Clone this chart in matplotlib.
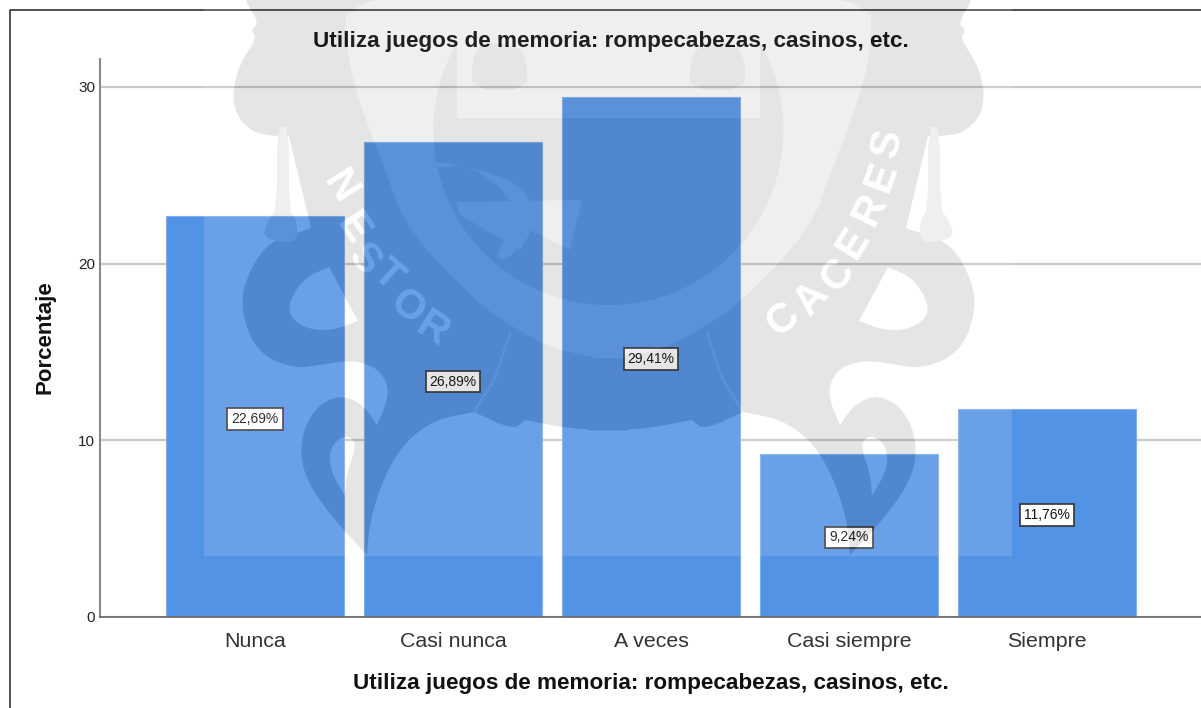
import numpy as np
import matplotlib
matplotlib.use("Agg")
import matplotlib.pyplot as plt
from matplotlib.backends.backend_agg import FigureCanvasAgg
from matplotlib.figure import Figure
from matplotlib.patches import Ellipse, Polygon

plt.rcParams['font.family'] = ['Liberation Sans', 'DejaVu Sans']

# data
categorias = ["Nunca", "Casi nunca", "A veces", "Casi siempre", "Siempre"]
porcentajes = [22.69, 26.89, 29.41, 9.24, 11.76]
etiquetas = ["22,69%", "26,89%", "29,41%", "9,24%", "11,76%"]
yticks = [0, 10, 20, 30]
titulo = "Utiliza juegos de memoria: rompecabezas, casinos, etc."

W, H = 1201, 708
CENTRO = 608.5


# rounds the corners of an outline
def suave(puntos, n=2):
    p = np.array(puntos, dtype=float)
    for _ in range(n):
        q = np.roll(p, -1, axis=0)
        r = p
        p = np.empty((2 * len(r), 2))
        p[0::2] = 0.75 * r + 0.25 * q
        p[1::2] = 0.25 * r + 0.75 * q
    return p


def espejo(p):
    p = np.array(p, dtype=float)
    p[:, 0] = 2 * CENTRO - p[:, 0]
    return p


# watermark logo, drawn off screen in pixel coordinates: black = dark, gray = light
def marca_de_agua():
    fig2 = Figure(figsize=(W / 100, H / 100), dpi=100, facecolor="white")
    canvas = FigureCanvasAgg(fig2)
    a = fig2.add_axes([0, 0, 1, 1])
    a.set_xlim(0, W)
    a.set_ylim(H, 0)
    a.axis("off")
    oscuro, claro, blanco = "0.0", "0.4", "1.0"

    def dibuja(puntos, color, n=2, doble=True):
        p = suave(puntos, n)
        a.add_patch(Polygon(p, closed=True, fc=color, ec="none", zorder=dibuja.z))
        dibuja.z += 1
        if doble:
            a.add_patch(Polygon(espejo(p), closed=True, fc=color, ec="none", zorder=dibuja.z))
            dibuja.z += 1
    dibuja.z = 1

    borde = [(972, -10), (972, 0), (958, 23), (966, 30), (960, 38), (977, 63), (985, 93),
             (980, 117), (963, 133), (942, 136), (930, 136), (928, 150), (906, 228),
             (918, 232), (947, 242), (965, 265), (977, 300), (967, 340), (947, 360),
             (920, 368), (897, 365), (867, 360), (840, 367), (828, 387), (832, 407),
             (840, 425), (840, 425), (852, 407), (873, 395), (897, 403), (913, 427),
             (917, 457), (907, 487), (880, 523), (850, 555), (850, 555), (850, 555),
             (847, 520), (833, 477), (813, 443), (783, 420), (743, 412), (743, 412),
             (704, 430), (692, 420), (692, 420), (640, 430), (560, 431), (560, -10)]
    dibuja(borde, oscuro)

    # holes of the scrolls and the gap next to the tassel
    dibuja([(888, 267), (888, 267), (913, 278), (928, 302), (927, 318), (907, 330), (883, 330),
            (859, 321), (859, 321)], blanco)
    dibuja([(873, 435), (887, 447), (887, 470), (872, 496), (872, 496), (870, 473), (862, 450),
            (863, 440)], blanco)
    dibuja([(928, 136), (928, 136), (906, 228), (906, 228), (920, 233), (945, 190), (945, 136)],
           blanco, n=1)

    # tassel
    dibuja([(928, 127), (940, 127), (940, 208), (950, 222), (954, 237), (933, 243), (920, 240),
            (920, 222), (928, 208)], claro, n=1)

    # inner shield, lighter than the ring with the letters
    escudo = [(560, -10), (872, -10), (870, 57), (855, 110), (833, 167), (810, 230), (740, 303),
              (700, 330), (650, 355), (560, 361)]
    dibuja(escudo, claro)

    # center of the coat of arms
    a.add_patch(Ellipse((CENTRO, 130), 350, 350, fc=oscuro, ec="none", zorder=dibuja.z))
    dibuja.z += 1
    dibuja([(560, -10), (760, -10), (760, 118), (560, 118)], claro, n=0)
    dibuja([(690, 90), (690, 60), (700, 45), (735, 43), (745, 60), (745, 90)], oscuro, n=1)
    dibuja([(456, 202), (582, 200), (570, 250), (530, 230), (520, 250), (460, 215)], claro, n=0, doble=False)
    dibuja([(433, 160), (500, 175), (531, 195), (535, 230), (505, 262), (495, 255), (515, 225),
            (510, 195), (470, 165), (435, 168)], claro, n=1, doble=False)

    # thin arc under the shield
    for lado in [1, -1]:
        xs = np.array([707, 722, 743])
        if lado == -1:
            xs = 2 * CENTRO - xs
        a.plot(xs, [333, 378, 412], color=claro, lw=2, zorder=dibuja.z)

    # letters of the ring
    nestor = [("N", 340, 187, -58), ("E", 352, 228, -56), ("S", 364, 260, -48),
              ("T", 387, 275, -42), ("O", 407, 307, -38), ("R", 432, 330, -32)]
    caceres = [("C", 783, 320, 42), ("A", 812, 298, 48), ("C", 838, 275, 52), ("E", 853, 243, 58),
               ("R", 870, 210, 64), ("E", 882, 177, 70), ("S", 888, 143, 78)]
    for letra, x, y, rot in nestor + caceres:
        a.text(x, y, letra, color="white", fontsize=30, fontweight="bold", rotation=rot,
               ha="center", va="center", rotation_mode="anchor", zorder=dibuja.z + 1,
               family=["Liberation Sans", "DejaVu Sans"])

    canvas.draw()
    gris = np.asarray(canvas.buffer_rgba())[:, :, 0] / 255.0

    # the logo sits in a semi transparent sheet, which also lightens the bars
    s = 1 - gris
    c = (1 - s) * 1.0 + s * (60 / 255)
    rgba = np.zeros((H, W, 4))
    rgba[:, :, 0] = c
    rgba[:, :, 1] = c
    rgba[:, :, 2] = c
    rgba[:556, 204:1012, 3] = 0.13
    return rgba


fig = plt.figure(figsize=(W / 100, H / 100), dpi=100, facecolor="white")
ax = fig.add_axes([100 / W, 1 - 617 / H, 1 - 100 / W, (617 - 59) / H])

x = np.arange(len(categorias))
ax.bar(x, porcentajes, width=0.9, color="#5393E5", edgecolor="#7FAEEB", linewidth=0.8, zorder=2)
ax.set_xlim(-155 / 198, (W - 255) / 198)
ax.set_ylim(0, (617 - 59) / 17.67)

ax.set_yticks(yticks)
ax.set_xticks(x)
ax.set_xticklabels(categorias, fontsize=15.4, color="#333333")
ax.tick_params(axis="y", length=0, pad=3.5, labelsize=11, labelcolor="#222222")
ax.tick_params(axis="x", length=0, pad=11)
ax.grid(axis="y", color="#c9c9c9", linewidth=1.6, zorder=1)
ax.set_axisbelow(True)
for lado in ["top", "right"]:
    ax.spines[lado].set_visible(False)
ax.spines["left"].set_color("#8a8a8a")
ax.spines["left"].set_linewidth(1.5)
ax.spines["bottom"].set_color("#666666")
ax.spines["bottom"].set_linewidth(1.2)

for xi, v, t in zip(x, porcentajes, etiquetas):
    ax.text(xi, v / 2 - 0.12, t, ha="center", va="center", fontsize=10, color="#111111", zorder=5,
            bbox=dict(boxstyle="square,pad=0.28", fc="white", ec="#333333", lw=1.2))

fig.text(610.5 / W, 1 - 41 / H, titulo, ha="center", va="center", fontsize=16.2, fontweight="bold", color="#111111")
fig.text(650.5 / W, 1 - 684 / H, titulo, ha="center", va="center", fontsize=16.2, fontweight="bold", color="#111111")
fig.text(45 / W, 1 - 337 / H, "Porcentaje", ha="center", va="center", rotation=90, fontsize=16,
         fontweight="bold", color="#111111")

# outer frame of the chart
fig.add_artist(plt.Line2D([9.5 / W, 9.5 / W, 1], [0, 1 - 9.5 / H, 1 - 9.5 / H], color="#333333", lw=1.2))

fig.figimage(marca_de_agua(), 0, 0, origin="upper", zorder=10)

fig.savefig("out.png", dpi=100)
